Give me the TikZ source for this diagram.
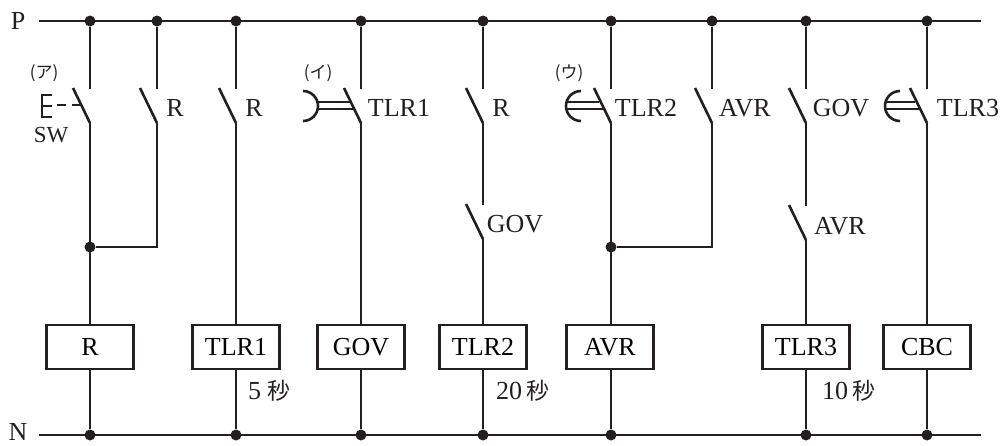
\documentclass[tikz,border=0pt]{standalone}
\usepackage{fontspec}
\setmainfont{Liberation Serif}
\newfontfamily\cjk{Noto Sans CJK JP}
\tikzset{
  x=1pt,y=-1pt,
  wire/.style={line width=2.6pt,draw=ink,line cap=butt},
  thin wire/.style={line width=1.9pt,draw=ink},
  dot/.style={circle,fill=ink,inner sep=0pt,minimum size=11pt},
  coil/.style={draw=ink,line width=2.6pt,minimum width=87pt,minimum height=44pt,inner sep=0pt,fill=white,font=\lbl},
  lab/.style={inner sep=0pt,text=ink,font=\lbl},
  tag/.style={inner sep=0pt,text=ink,font=\tagf},
}
\definecolor{ink}{HTML}{231F20}
\newcommand{\lbl}{\fontsize{26}{28}\selectfont}
\newcommand{\tagf}{\fontsize{17}{20}\selectfont\cjk}
\newcommand{\secf}{\fontsize{23}{25}\selectfont\cjk}
\newcommand{\swt}[3]{%
  \coordinate (#1t) at (#2,#3);
  \coordinate (#1b) at (#2,#3+34);
  \coordinate (#1h) at (#2-17,#3-1);
  \draw[wire] (#1h) -- (#1b);
}
\begin{document}
\begin{tikzpicture}
\useasboundingbox (0,0) rectangle (1003,445);
% rails
\coordinate (Pl) at (39,21); \coordinate (Pr) at (981,21);
\coordinate (Nl) at (39,435); \coordinate (Nr) at (981,435);
\draw[wire] (Pl) -- (Pr);
\draw[wire] (Nl) -- (Nr);
\node[lab] (P) at (18,21) {P};
\node[lab] (N) at (18,432) {N};
% junctions
\foreach \n/\x in {a/90,b/157,c/236,d/361,e/483,f/611,g/712,h/806,i/927}{
  \node[dot] (\n P) at (\x,21) {};
}
\foreach \n/\x in {a/90,c/236,d/361,e/483,f/611,h/806,i/927}{
  \node[dot] (\n N) at (\x,435) {};
}
\node[dot] (aJ) at (90,247) {};
\node[dot] (fJ) at (611,247) {};
% coils
\node[coil] (cR) at (90,347) {R};
\node[coil] (cT1) at (236,347) {TLR1};
\node[coil] (cG) at (361,347) {GOV};
\node[coil] (cT2) at (483,347) {TLR2};
\node[coil] (cA) at (610,347) {AVR};
\node[coil] (cT3) at (806,347) {TLR3};
\node[coil] (cC) at (927,347) {CBC};
% switches
\swt{a}{90}{89}\swt{b}{157}{89}\swt{c}{236}{89}\swt{d}{361}{89}\swt{e}{483}{89}
\swt{f}{611}{89}\swt{g}{712}{89}\swt{h}{806}{89}\swt{i}{927}{89}
\swt{eu}{483}{205}\swt{hu}{806}{206}
% wiring
\draw[wire] (aP) -- (at); \draw[wire] (ab) -- (cR);
\draw[wire] (bP) -- (bt); \draw[wire] (bb) |- (aJ);
\draw[wire] (cP) -- (ct); \draw[wire] (cb) -- (cT1);
\draw[wire] (dP) -- (dt); \draw[wire] (db) -- (cG);
\draw[wire] (eP) -- (et); \draw[wire] (eb) -- (eut); \draw[wire] (eub) -- (cT2);
\draw[wire] (fP) -- (ft); \draw[wire] (fb) -- (cA.north -| fb);
\draw[wire] (gP) -- (gt); \draw[wire] (gb) |- (fJ);
\draw[wire] (hP) -- (ht); \draw[wire] (hb) -- (hut); \draw[wire] (hub) -- (cT3);
\draw[wire] (iP) -- (it); \draw[wire] (ib) -- (cC);
\draw[wire] (cR) -- (aN); \draw[wire] (cT1) -- (cN); \draw[wire] (cG) -- (dN);
\draw[wire] (cT2) -- (eN); \draw[wire] (cA.south -| fN) -- (fN); \draw[wire] (cT3) -- (hN); \draw[wire] (cC) -- (iN);
% actuator a: manual pull
\draw[wire] (52,95) -- (42,95) -- (42,117) -- (52,117);
\draw[wire] (42,106) -- (52,106);
\draw[wire] (57,105) -- (66,105);
\draw[wire] (72,105) -- (81,105);
% actuator d
\draw[thin wire] (318,102) -- (350,102);
\draw[thin wire] (318,109) -- (353.5,109);
\draw[wire] (303,91) arc[start angle=-90,end angle=90,radius=15];
% actuator f
\draw[thin wire] (566,102) -- (599,102);
\draw[thin wire] (566,109) -- (602.5,109);
\draw[wire] (581,91) arc[start angle=270,end angle=90,radius=15];
% actuator i
\draw[thin wire] (885,102) -- (915,102);
\draw[thin wire] (885,109) -- (918.5,109);
\draw[wire] (900,91) arc[start angle=270,end angle=90,radius=15];
% labels
\node[lab] (lb) at (175,108) {R};
\node[lab] (lc) at (254,108) {R};
\node[lab] (ld) at (399,108) {TLR1};
\node[lab] (le) at (501,108) {R};
\node[lab] (lf) at (646,108) {TLR2};
\node[lab] (lg) at (745,108) {AVR};
\node[lab] (lh) at (841,108) {GOV};
\node[lab] (li) at (968,108) {TLR3};
\node[lab] (leu) at (515,224) {GOV};
\node[lab] (lhu) at (840,226) {AVR};
\node[lab,font=\fontsize{23}{25}\selectfont] (lsw) at (51,135) {SW};
\node[tag] (ta) at (44,73) {(ア)};
\node[tag] (ti) at (318,73) {(イ)};
\node[tag] (tu) at (569,73) {(ウ)};
\node[lab,anchor=west] (s1) at (248,391) {5\hspace{6pt}{\secf 秒}};
\node[lab,anchor=west] (s2) at (496,391) {20\hspace{4pt}{\secf 秒}};
\node[lab,anchor=west] (s3) at (822,391) {10\hspace{4pt}{\secf 秒}};
\end{tikzpicture}
\end{document}
